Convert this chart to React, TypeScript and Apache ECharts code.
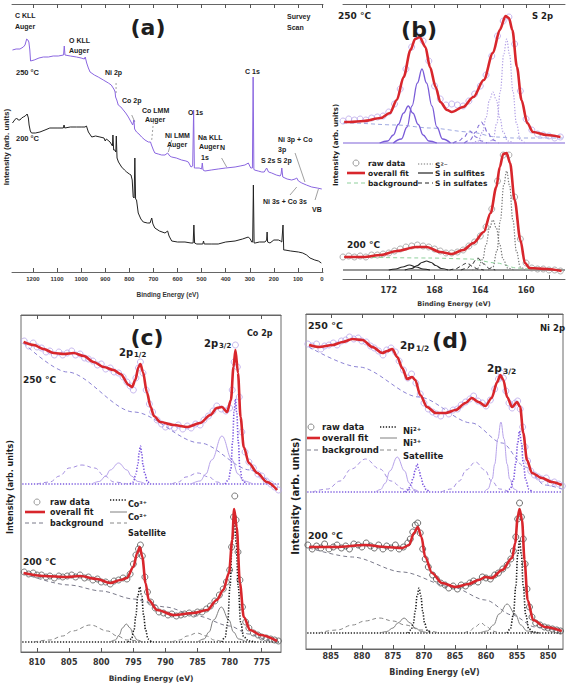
import React, { useEffect, useRef } from "react";
import * as echarts from "echarts";

// ---------------- Panel (a): survey scans ----------------
const A_TICKS = [0, 100, 200, 300, 400, 500, 600, 700, 800, 900, 1000, 1100, 1200];
const A_250 = [
  [1285,222],[1270,223],[1254,223],[1240,225],[1233,227],[1226,233],[1221,232],[1217,230],[1213,222],[1210,211],
  [1195,212],[1175,214],[1157,215],[1136,215],[1116,216],[1095,216],[1073,217],[1070,226],[1067,217],[1045,216],
  [1019,215],[1000,214],[987,213],[983,215],[977,209],[970,204],[963,200],[945,197],[929,195],[908,192],[887,189],
  [875,187],[867,184],[862,182],[859,180],[857,175],[852,172],[846,167],[835,165],[825,162],[815,159],[804,155],
  [795,151],[786,147],[781,152],[778,143],[770,140],[760,138],[749,135],[735,132],[721,130],[712,130],[708,127],
  [700,122],[694,119],[680,118],[666,117],[652,117],[641,119],[632,116],[624,115],[605,114],[583,112],[565,111],
  [555,110],[544,105],[537,106],[533,162],[530,104],[525,104],[510,104],[500,103],[497,109],[494,102],[486,101],
  [460,102],[431,103],[400,104],[361,105],[340,106],[320,107],[306,109],[296,104],[289,104],[286,195],[283,103],
  [281,102],[265,101],[250,100],[240,100],[230,104],[222,100],[209,99],[190,97],[174,96],[170,98],[167,104],
  [163,95],[161,95],[145,93],[126,92],[112,93],[105,94],[98,91],[84,89],[65,87],[43,85],[20,84],[1,83]
];
const A_200 = [
  [1285,149],[1276,152],[1268,154],[1261,152],[1254,152],[1247,154],[1240,155],[1232,156],[1224,158],[1219,154],
  [1216,147],[1211,141],[1206,139],[1190,139],[1171,140],[1150,142],[1130,144],[1100,144],[1074,144],[1071,147],
  [1068,144],[1045,145],[1019,145],[1000,145],[984,145],[978,146],[970,140],[956,135],[940,136],[922,135],
  [905,134],[900,131],[895,133],[880,130],[870,126],[868,137],[865,122],[860,122],[856,120],[854,136],[851,114],
  [845,110],[832,105],[820,102],[811,100],[800,98],[793,97],[788,92],[784,75],[780,74],[777,114],[774,73],
  [770,72],[763,59],[752,53],[742,50],[725,49],[714,49],[707,54],[702,48],[694,44],[675,41],[652,39],[641,41],
  [635,36],[624,31],[600,30],[569,30],[544,29],[535,29],[532,47],[529,29],[520,28],[495,28],[492,31],[489,28],
  [460,28],[431,28],[400,30],[361,31],[330,33],[306,35],[298,33],[292,30],[288,30],[285,87],[282,29],[278,29],
  [260,30],[237,30],[230,32],[228,40],[226,30],[216,29],[200,32],[181,32],[172,31],[167,30],[162,47],[159,22],
  [154,22],[130,21],[98,20],[80,19],[64,17],[50,14],[30,12],[15,11],[3,9]
];
const A_POINTERS = [
  { seg: [[855,189],[855,178]], dash: true },
  { seg: [[790,157],[777,150]], dash: false },
  { seg: [[700,150],[707,132]], dash: true },
  { seg: [[624,132],[638,120]], dash: false },
  { seg: [[417,114],[396,105]], dash: false },
  { seg: [[112,119],[71,90]], dash: false },
  { seg: [[133,77],[105,85]], dash: false },
  { seg: [[29,72],[15,83]], dash: false }
];

// ---------------- Panel (b): S 2p ----------------
const B_TICKS = [158, 160, 162, 164, 166, 168, 170, 172, 174];
const B_LABELS = [160, 164, 168, 172];
const B250_RAW = [
  [176.0,158],[175.5,160],[175.0,159],[174.5,160],[174.0,159],[173.5,161],[173.0,162],[172.5,163],[172.0,167],
  [171.5,175],[171.0,190],[170.5,210],[170.0,232],[169.5,243],[169.0,238],[168.5,218],[168.0,193],[167.5,180],
  [167.0,174],[166.5,175],[166.0,174],[165.5,173],[165.0,178],[164.5,185],[164.0,193],[163.5,204],[163.0,223],
  [162.5,243],[162.0,258],[161.5,262],[161.0,235],[160.5,188],[160.0,160],[159.5,149],[159.0,145],[158.5,144],
  [158.0,143],[157.5,141],[157.0,142]
];
const B250_FIT = [
  [175.9,157],[175.4,157],[174.2,158],[172.7,161],[171.9,166],[171.3,179],[170.7,202],[170.1,229],[169.7,240],
  [169.3,242],[168.8,232],[168.4,212],[167.9,192],[167.5,177],[166.9,169],[166.5,167],[165.5,172],[164.6,182],
  [163.7,199],[162.9,226],[162.3,249],[161.8,263],[161.5,261],[161.2,249],[160.8,212],[160.4,179],[159.9,156],
  [159.4,147],[158.2,144],[157.0,142]
];
const B250_BG = [[176,156],[175.4,156],[171.3,154],[168.4,151],[164.9,147],[162.6,142],[161.1,141],[156.8,141]];
const B250_SO4A = [[171.6,136],[170.9,140],[170.4,152],[169.975,173],[169.5,196],[169.1,210],[168.7,196],[168.225,173],[167.8,152],[167.3,140],[166.6,136]];
const B250_SO4B = [[172.8,136],[172.1,138],[171.6,144],[171.175,154.5],[170.7,166],[170.3,173],[169.9,166],[169.425,154.5],[169.0,144],[168.5,138],[167.8,136]];
const B250_S2A = [[163.3,136],[162.9,139],[162.55,156],[162.25,188],[161.95,225],[161.7,240],[161.45,225],[161.15,188],[160.85,156],[160.5,139],[160.1,136]];
const B250_S2B = [[164.7,136],[164.2,138],[163.8,147],[163.5,161.5],[163.2,179],[162.9,187],[162.6,179],[162.3,161.5],[162.0,147],[161.6,138],[161.1,136]];
const B250_SO3A = [[165.4,136],[164.9,139],[164.4,147],[164.1,154],[163.9,157],[163.7,154],[163.4,147],[162.9,139],[162.4,136]];
const B250_SO3B = [[166.4,136],[165.9,138],[165.4,142],[165.1,146],[164.9,148],[164.7,146],[164.4,142],[163.9,138],[163.4,136]];
const B250_BASE = [[176,136],[156.6,136]];

const B200_RAW = [
  [176.0,22],[175.5,23],[175.0,22],[174.5,23],[174.0,22],[173.5,24],[173.0,24],[172.5,25],[172.0,26],[171.5,28],
  [171.0,30],[170.5,32],[170.0,33],[169.5,34],[169.0,33],[168.5,32],[168.0,30],[167.5,28],[167.0,26],[166.5,26],
  [166.0,27],[165.5,29],[165.0,33],[164.5,37],[164.0,43],[163.5,52],[163.0,70],[162.5,98],[162.0,124],[161.5,124],
  [161.0,82],[160.5,40],[160.0,16],[159.5,11],[159.0,10],[158.5,10],[158.0,9],[157.5,9],[157.0,8]
];
const B200_FIT = [
  [175.9,22],[174.2,22],[172.7,24],[171.3,28],[169.6,32],[168.7,32],[167.5,27],[166.5,25],[165.5,29],[164.6,36],
  [163.7,47],[163.1,66],[162.6,92],[162.3,112],[162.0,125],[161.7,126],[161.4,116],[161.0,79],[160.5,39],
  [160.1,16],[159.7,11],[158.2,10],[156.9,8]
];
const B200_BG = [[175.9,22],[168.4,21],[164.9,20],[162.6,16],[160.8,11],[159.7,10],[156.9,9]];
const B200_SO4A = [[170.6,9],[170.0,10.5],[169.5,13.5],[169.1,16.5],[168.7,18],[168.3,16.5],[167.9,13.5],[167.4,10.5],[166.8,9]];
const B200_SO4B = [[172.0,9],[171.4,10],[170.8,12],[170.2,14],[169.6,12],[169.0,10],[168.4,9]];
const B200_SO3A = [[165.7,9],[165.2,10.5],[164.7,15],[164.4,19],[164.2,21],[164.0,19],[163.7,15],[163.2,10.5],[162.7,9]];
const B200_SO3B = [[166.7,9],[166.2,10],[165.7,12.5],[165.4,15],[165.2,16],[165.0,15],[164.7,12.5],[164.2,10],[163.7,9]];
const B200_S2A = [[163.3,9],[162.9,12],[162.55,28],[162.25,58.5],[161.95,94],[161.7,108],[161.45,94],[161.15,58.5],[160.85,28],[160.5,12],[160.1,9]];
const B200_S2B = [[164.7,9],[164.2,11],[163.8,19.5],[163.5,34],[163.2,51],[162.9,59],[162.6,51],[162.3,34],[162.0,19.5],[161.6,11],[161.1,9]];
const B200_BASE = [[176,9],[156.6,9]];

// ---------------- Panel (c): Co 2p ----------------
const C_TICKS = [775, 780, 785, 790, 795, 800, 805, 810];
const C250_RAW = [
  [812,311],[811.3,306],[810.6,309],[810,305],[809.3,304],[808.6,300],[808,301],[807.3,297],[806.6,300],[806,297],
  [805.3,299],[804.6,301],[804,297],[803.3,298],[802.6,294],[802,293],[801.3,291],[800.6,287],[800,288],[799.3,283],
  [798.6,284],[798,280],[797.3,279],[796.6,275],[796,270],[795.5,266],[795,262],[794.6,274],[794.2,284],[793.9,290],
  [793.5,279],[793,262],[792.5,248],[792,240],[791.3,232],[790.6,228],[790,225],[789.3,226],[788.6,224],[788,227],
  [787.3,223],[786.6,226],[786,224],[785.3,228],[784.6,227],[784,232],[783.3,236],[782.6,241],[782,246],[781.3,243],
  [780.6,241],[780,244],[779.6,262],[779.3,290],[779.1,307],[778.8,285],[778.5,255],[778.1,220],[777.6,200],
  [777,190],[776.3,184],[775.6,178],[775,176],[774.3,171],[773.6,168],[773,165],[772.4,162]
];
const C250_FIT = [
  [812.1,310],[810.5,307],[809,303],[807.4,299],[805.8,298],[804.3,299],[802.7,296],[801.2,290],[799.6,285],
  [798.1,282],[797,278],[795.7,267],[795.2,265],[794.7,272],[794.2,285],[793.9,288],[793.5,280],[792.9,260],
  [792.3,245],[791.8,236],[790.8,230],[788.7,227],[786.6,225],[784.6,229],[783,237],[782,244],[781.2,245],
  [780.4,240],[779.8,252],[779.4,285],[779.1,302],[778.7,279],[778.3,235],[777.8,205],[777,189],[775.7,179],
  [774.2,170],[772.6,162]
];
const C250_BG = [[812.1,309],[805.3,280],[794.9,240],[784.6,209],[776.8,182],[772.6,163]];
const C250_SAT1 = [[810,168],[808,170],[806.5,176],[805,184],[803,187],[801,184],[799.5,176],[798,170],[796,168]];
const C250_SAT2 = [[789,168],[788,170],[786.8,175],[785,179],[783.2,175],[782,170],[781,168]];
const C250_CO2A = [[801.5,168],[800.3,170.5],[799.3,176],[798.6,182],[797.3,189],[796,182],[795.3,176],[794.3,170.5],[793.1,168]];
const C250_CO2B = [[786,168],[784.6,171],[783.7,178],[782.8,192],[781.2,216],[779.6,192],[778.7,178],[777.8,171],[776.4,168]];
const C250_CO3A = [[795.5,168],[795.0,170],[794.6,178],[794.3,187],[794.1,199],[793.9,206],[793.7,199],[793.5,187],[793.2,178],[792.8,170],[792.3,168]];
const C250_CO3B = [[780.7,168],[780.2,172],[779.8,183],[779.55,210],[779.3,240],[779.1,253],[778.9,240],[778.65,210],[778.4,183],[778.0,172],[777.5,168]];
const C250_BASE = [[812.3,168],[772.2,168]];

const C200_RAW = [
  [812,80],[811.3,78],[810.6,79],[810,77],[809.3,77],[808.6,75],[808,76],[807.3,74],[806.6,76],[806,75],[805.3,76],
  [804.6,77],[804,75],[803.3,77],[802.6,74],[802,75],[801.3,72],[800.6,73],[800,70],[799.3,70],[798.6,68],[798,71],
  [797.3,72],[796.6,74],[796,73],[795.5,78],[795,88],[794.6,97],[794.2,103],[793.9,107],[793.6,96],[793.2,75],
  [792.8,60],[792.3,50],[791.6,44],[791,40],[790.3,39],[789.6,37],[789,38],[788.3,36],[787.6,37],[787,38],
  [786.3,39],[785.6,38],[785,40],[784.3,40],[783.6,43],[783,46],[782.3,51],[781.6,57],[781,63],[780.5,70],
  [780,82],[779.7,105],[779.4,135],[779.2,156],[779,132],[778.7,100],[778.4,72],[778,45],[777.5,30],[777,24],
  [776.3,19],[775.6,17],[775,15],[774.3,14],[773.6,13],[773,12],[772.4,11]
];
const C200_FIT = [
  [812.1,79],[809,76],[805.3,75],[803.3,76],[800.7,73],[798.6,69],[797,72],[796,74],[795,85],[794.4,99],[794,105],
  [793.6,95],[793.1,69],[792.6,52],[791.3,42],[788.7,37],[785.6,39],[783.5,42],[782,52],[781,62],[780.1,79],
  [779.6,112],[779.3,143],[778.9,125],[778.4,69],[777.8,35],[776.8,22],[775.2,17],[772.6,11]
];
const C200_BG = [[812,78],[805,67],[800,61],[795,53],[790,45],[785,36],[780,26],[777,18],[774,12],[772.5,10]];
const C200_SAT1 = [[810.5,10],[808,12],[806,16],[804.5,21],[801.7,27],[799,21],[797.5,16],[796,12],[793.5,10]];
const C200_SAT2 = [[789,10],[787.8,12],[786.6,16],[785.1,19],[783.6,16],[782.4,12],[781,10]];
const C200_CO2A = [[798.6,10],[797.8,12],[797.2,17],[796.7,24],[796.1,28],[795.5,24],[795,17],[794.4,12],[793.6,10]];
const C200_CO2B = [[785,10],[784,13],[783.2,20],[782.5,32],[781.3,45],[780.1,32],[779.4,20],[778.6,13],[777.4,10]];
const C200_CO3A = [[795.8,10],[795.3,13],[794.9,22],[794.6,37],[794.3,56],[794,65],[793.7,56],[793.4,37],[793.1,22],[792.7,13],[792.2,10]];
const C200_CO3B = [[781.2,10],[780.7,15],[780.3,30],[779.95,65],[779.6,110],[779.3,134],[779.0,110],[778.65,65],[778.3,30],[777.8,15],[777,11],[776,10]];
const C200_BASE = [[812.3,10],[772.2,10]];

// ---------------- Panel (d): Ni 2p ----------------
const D_TICKS = [850, 855, 860, 865, 870, 875, 880, 885];
const D250_RAW = [
  [888.7,305],[888,303],[887.3,305],[886.6,300],[886,303],[885.3,304],[884.6,306],[884,304],[883.3,308],[882.6,309],
  [882,312],[881.3,310],[880.6,311],[880,308],[879.3,307],[878.6,303],[878,301],[877.3,298],[876.6,294],[876,299],
  [875.3,301],[874.6,297],[874,288],[873.3,279],[872.6,271],[872,275],[871.3,266],[870.6,255],[870,246],[869.3,240],
  [868.6,237],[868,235],[867.3,233],[866.6,238],[866,235],[865.3,239],[864.6,240],[864,244],[863.3,247],[862.6,250],
  [862,253],[861.3,248],[860.6,246],[860,243],[859.3,249],[858.6,260],[858,270],[857.6,276],[857.2,271],[856.8,258],
  [856.3,246],[855.8,241],[855.3,246],[854.9,248],[854.5,240],[854.1,222],[853.7,202],[853.3,188],[852.8,178],
  [852.2,174],[851.6,172],[851,170],[850.3,171],[849.6,166],[849,167],[848.3,165],[847.7,163]
];
const D250_FIT = [
  [888.5,304],[886.9,302],[884.7,304],[883.1,307],[881.5,310],[879.9,309],[878.3,302],[876.7,296],[875.9,298],
  [875.1,300],[874.3,292],[873.5,281],[872.7,270],[871.9,272],[871.4,269],[870.6,254],[869.5,242],[868.1,236],
  [866.5,236],[864.9,239],[863.3,246],[862.3,251],[861.2,247],[860.1,243],[859.1,251],[858.2,267],[857.7,274],
  [857.2,269],[856.6,252],[855.8,242],[855,247],[854.5,242],[854,216],[853.4,189],[852.6,176],[851,171],
  [849.4,167],[847.8,164]
];
const D250_BG = [[888.5,302],[880.5,282],[870.8,252],[862.3,226],[857.4,206],[853.7,182],[850.5,164],[847.8,160]];
const D250_SAT1 = [[888,157],[885.5,160],[883.5,168],[881.7,180],[879.4,190],[877.1,180],[875.3,168],[873.3,160],[870.8,157]];
const D250_SAT2 = [[867.2,157],[865.6,160],[864.3,168],[863.2,179],[861.7,187],[860.2,179],[859.1,168],[857.8,160],[856.2,157]];
const D250_NI3A = [[877.8,157],[877,159.5],[876.2,166],[875.5,178],[874.3,192],[873.1,178],[872.4,166],[871.6,159.5],[870.8,157]];
const D250_NI3B = [[860.3,157],[859.7,160],[859,170],[858.6,185],[858.1,210],[857.6,227],[857.1,210],[856.6,185],[856.2,170],[855.5,160],[854.8,157]];
const D250_NI2A = [[873.1,157],[872.6,159],[872.1,164],[871.75,171],[871.4,179],[871.1,185],[870.8,179],[870.45,171],[870.1,164],[869.6,159],[869.1,157]];
const D250_NI2B = [[856.6,157],[856.1,160],[855.6,169],[855.2,186],[854.9,206],[854.6,218],[854.3,206],[854.0,186],[853.6,169],[853.1,160],[852.6,157]];
const D250_BASE = [[888.8,157],[847.8,157]];

const D200_RAW = [
  [888.7,104],[888,100],[887.3,103],[886.6,101],[886,105],[885.3,100],[884.6,102],[884,104],[883.3,101],[882.6,103],
  [882,100],[881.3,105],[880.6,104],[880,102],[879.3,106],[878.6,103],[878,101],[877.3,104],[876.6,100],[876,103],
  [875.3,101],[874.6,104],[874,100],[873.3,102],[872.6,106],[872.2,110],[871.8,117],[871.4,124],[871,126],[870.6,116],
  [870.2,100],[869.8,90],[869.3,82],[868.6,74],[868,70],[867.3,66],[866.6,64],[866,61],[865.3,63],[864.6,60],
  [864,64],[863.3,63],[862.6,66],[862,68],[861.3,67],[860.6,72],[860,71],[859.3,70],[858.6,74],[858,76],[857.3,80],
  [856.6,84],[856,90],[855.6,98],[855.2,112],[854.9,130],[854.6,146],[854.3,132],[854,110],[853.7,85],[853.4,60],
  [853,42],[852.6,32],[852,26],[851.3,24],[850.6,22],[850,21],[849.3,20],[848.6,19],[848,18]
];
const D200_FIT = [
  [888.5,102],[884.2,102],[879.4,104],[876.2,102],[873.5,101],[872.4,104],[871.6,116],[871,122],[870.4,112],
  [869.8,92],[868.7,76],[867.1,66],[864.9,62],[862.8,65],[861.2,69],[860.1,72],[859.1,71],[857.4,79],[855.8,91],
  [855.3,106],[854.9,132],[854.6,140],[854.2,129],[853.8,89],[853.3,49],[852.4,29],[850.5,22],[847.8,18]
];
const D200_BG = [[888.5,101],[881.5,92],[873.5,77],[865.5,62],[860.1,49],[855.8,34],[852.1,22],[847.8,17]];
const D200_SAT1 = [[887,16],[884,19],[881.5,24],[879.5,28],[877.2,31],[875,28],[873,24],[870.5,19],[867.5,16]];
const D200_SAT2 = [[863.5,16],[862.6,18],[861.8,22],[860.8,26],[859.8,22],[859,18],[858,16]];
const D200_NI3A = [[877,16],[876,17.5],[875,21],[874.2,26],[873.2,31],[872.2,26],[871.4,21],[870.4,17.5],[869.4,16]];
const D200_NI3B = [[861,16],[859.8,18],[858.8,24],[857.9,35],[856.6,45],[855.3,35],[854.4,24],[853.4,18],[852,16]];
const D200_NI2A = [[872.6,16],[872.1,19],[871.7,26],[871.4,38],[871.1,53],[870.8,61],[870.5,53],[870.2,38],[869.9,26],[869.5,19],[869,16]];
const D200_NI2B = [[856.6,16],[856.1,20],[855.6,34],[855.2,62],[854.9,94],[854.6,109],[854.3,94],[854,62],[853.6,34],[853.1,20],[852.4,17],[851.5,16]];
const D200_BASE = [[888.8,16],[847.8,16]];

// ---------------- styling ----------------
const FONT = "DejaVu Sans, sans-serif";
const NARROW = "Liberation Sans, Arial, sans-serif";
const RED = "#d8262c";
const PURPLE = "#8a66e0";
const LAV = "#b9a6ea";
const DASH = [4, 3];
const DOT = [1.3, 1.6];
const INK = "#1e1e1e";

function App() {
  const ref = useRef<HTMLDivElement>(null);
  useEffect(() => {
    if (!ref.current) return;
    const chart = echarts.init(ref.current, null, { renderer: "svg", width: 567, height: 694 });

    const grids = [
      { left: 12, top: 4, width: 311, height: 268 },
      { left: 343, top: 4, width: 222, height: 275 },
      { left: 21, top: 315, width: 260, height: 337, show: true, borderColor: "#6a6a6a", borderWidth: 1 },
      { left: 306, top: 314, width: 257, height: 335, show: true, borderColor: "#6a6a6a", borderWidth: 1 },
    ];
    const ranges = [[-4, 1287], [156.6, 176], [772, 812.5], [847.6, 889]];
    const ticks = [A_TICKS, B_TICKS, C_TICKS, D_TICKS];
    const labels = [A_TICKS, B_LABELS, C_TICKS, D_TICKS];
    const lblSize = [6, 8, 8, 8];
    const lblMargin = [4, 7, 6, 3];
    const lblFont = [NARROW, FONT, FONT, FONT];
    const nameSize = [6.5, 6.5, 7.5, 8];
    const nameGap = [19, 21, 22, 19];
    const nameFont = [NARROW, FONT, FONT, FONT];

    const xAxis: any[] = [];
    for (let g = 0; g < 4; g++) {
      for (const pos of ["bottom", "top"]) {
        const bottom = pos === "bottom";
        xAxis.push({
          type: "value",
          gridIndex: g,
          position: pos,
          inverse: true,
          min: ranges[g][0],
          max: ranges[g][1],
          splitLine: { show: false },
          axisLine: { show: true, onZero: false, lineStyle: { color: "#666", width: 1 } },
          axisTick: { show: true, inside: true, length: 4, customValues: ticks[g], lineStyle: { color: "#555" } },
          axisLabel: {
            show: bottom,
            customValues: labels[g],
            formatter: (v: number) => String(v),
            fontSize: lblSize[g],
            fontWeight: "bold",
            fontFamily: lblFont[g],
            color: "#333",
            margin: lblMargin[g],
          },
          name: bottom ? "Binding Energy (eV)" : "",
          nameLocation: "middle",
          nameGap: nameGap[g],
          nameTextStyle: { fontSize: nameSize[g], fontWeight: "bold", fontFamily: nameFont[g], color: "#333" },
        });
      }
    }
    const ymax = [268, 275, 337, 335];
    const yAxis = ymax.map((m, g) => ({
      type: "value",
      gridIndex: g,
      min: 0,
      max: m,
      show: true,
      axisLine: { show: false },
      axisTick: { show: false },
      axisLabel: { show: false },
      splitLine: { show: false },
    }));

    const ln = (g: number, data: number[][], color: string, type: any, width: number, smooth: any = 0.4, z = 3) => ({
      type: "line",
      xAxisIndex: g * 2,
      yAxisIndex: g,
      data,
      symbol: "none",
      showSymbol: false,
      smooth,
      smoothMonotone: "x",
      silent: true,
      z,
      lineStyle: { color, width, type },
    });
    const raw = (g: number, data: number[][], color: string, size = 5.5) => ({
      type: "scatter",
      xAxisIndex: g * 2,
      yAxisIndex: g,
      data,
      symbol: "circle",
      symbolSize: size,
      silent: true,
      z: 2,
      itemStyle: { color: "rgba(0,0,0,0)", borderColor: color, borderWidth: 1 },
    });

    const series: any[] = [
      ln(0, A_250, PURPLE, "solid", 1, false, 3),
      ln(0, A_200, "#222", "solid", 1, false, 3),
      ...A_POINTERS.map((p) => ln(0, p.seg, "#777", p.dash ? [2, 2] : "solid", 0.7, false, 2)),

      // (b) 250
      ln(1, B250_BASE, "#7f63d8", "solid", 1.2, false, 2),
      ln(1, B250_BG, "#9fa9e0", DASH, 1, 0.3),
      ln(1, B250_SO4A, "#7a5cd8", "solid", 1.3),
      ln(1, B250_SO4B, "#7a5cd8", "solid", 1.3),
      ln(1, B250_S2A, "#b3a2e6", DOT, 1.2),
      ln(1, B250_S2B, "#b3a2e6", DOT, 1.2),
      ln(1, B250_SO3A, "#8470d6", DASH, 1.1),
      ln(1, B250_SO3B, "#8470d6", DASH, 1.1),
      raw(1, B250_RAW, LAV, 6),
      ln(1, B250_FIT, RED, "solid", 2.6, 0.3, 5),
      // (b) 200
      ln(1, B200_BASE, "#333", "solid", 1.2, false, 2),
      ln(1, B200_BG, "#8fd09c", DASH, 1, 0.3),
      ln(1, B200_SO4A, "#222", "solid", 1.2),
      ln(1, B200_SO4B, "#222", "solid", 1.2),
      ln(1, B200_SO3A, "#222", DASH, 1),
      ln(1, B200_SO3B, "#222", DASH, 1),
      ln(1, B200_S2A, "#777", DOT, 1.2),
      ln(1, B200_S2B, "#777", DOT, 1.2),
      raw(1, B200_RAW, "#9a9a9a", 6),
      ln(1, B200_FIT, RED, "solid", 2.6, 0.3, 5),

      // (c) 250
      ln(2, C250_BASE, "#7f5fe0", DOT, 1.4, false, 2),
      ln(2, C250_BG, "#8c83d4", DASH, 1, 0.3),
      ln(2, C250_SAT1, "#a48fe0", DASH, 1),
      ln(2, C250_SAT2, "#a48fe0", DASH, 1),
      ln(2, C250_CO2A, "#b7a3ea", "solid", 1),
      ln(2, C250_CO2B, "#b7a3ea", "solid", 1),
      ln(2, C250_CO3A, "#7a55e0", DOT, 1.6),
      ln(2, C250_CO3B, "#7a55e0", DOT, 1.6),
      raw(2, C250_RAW, LAV, 6),
      ln(2, C250_FIT, RED, "solid", 2.6, 0.3, 5),
      // (c) 200
      ln(2, C200_BASE, "#222", DOT, 1.4, false, 2),
      ln(2, C200_BG, "#7a7a8a", DASH, 1, 0.3),
      ln(2, C200_SAT1, "#888", DASH, 1),
      ln(2, C200_SAT2, "#888", DASH, 1),
      ln(2, C200_CO2A, "#808080", "solid", 1),
      ln(2, C200_CO2B, "#808080", "solid", 1),
      ln(2, C200_CO3A, "#1c1c1c", DOT, 1.6),
      ln(2, C200_CO3B, "#1c1c1c", DOT, 1.6),
      raw(2, C200_RAW, "#5a5a5a", 6),
      ln(2, C200_FIT, RED, "solid", 2.6, 0.3, 5),

      // (d) 250
      ln(3, D250_BASE, "#7f5fe0", DOT, 1.4, false, 2),
      ln(3, D250_BG, "#8c83d4", DASH, 1, 0.3),
      ln(3, D250_SAT1, "#a48fe0", DASH, 1),
      ln(3, D250_SAT2, "#a48fe0", DASH, 1),
      ln(3, D250_NI3A, "#b7a3ea", "solid", 1),
      ln(3, D250_NI3B, "#b7a3ea", "solid", 1),
      ln(3, D250_NI2A, "#7a55e0", DOT, 1.6),
      ln(3, D250_NI2B, "#7a55e0", DOT, 1.6),
      raw(3, D250_RAW, LAV, 6),
      ln(3, D250_FIT, RED, "solid", 2.6, 0.3, 5),
      // (d) 200
      ln(3, D200_BASE, "#222", DOT, 1.4, false, 2),
      ln(3, D200_BG, "#7a7a8a", DASH, 1, 0.3),
      ln(3, D200_SAT1, "#888", DASH, 1),
      ln(3, D200_SAT2, "#888", DASH, 1),
      ln(3, D200_NI3A, "#808080", "solid", 1),
      ln(3, D200_NI3B, "#808080", "solid", 1),
      ln(3, D200_NI2A, "#1c1c1c", DOT, 1.6),
      ln(3, D200_NI2B, "#1c1c1c", DOT, 1.6),
      raw(3, D200_RAW, "#4a4a4a", 6),
      ln(3, D200_FIT, RED, "solid", 2.6, 0.3, 5),
    ];

    const T = (x: number, y: number, text: string, size: number, opt: any = {}) => ({
      type: "text",
      x,
      y,
      silent: true,
      z: 10,
      rotation: opt.rotation || 0,
      style: {
        text,
        fontSize: size,
        fontWeight: opt.weight || "bold",
        fontFamily: opt.font || FONT,
        fill: opt.fill || INK,
        align: opt.align || "left",
        verticalAlign: "middle",
        textAlign: opt.align || "left",
        textVerticalAlign: "middle",
      },
    });
    const L = (x1: number, y1: number, x2: number, y2: number, stroke: string, w: number, dash?: number[]) => ({
      type: "line",
      silent: true,
      z: 10,
      shape: { x1, y1, x2, y2 },
      style: { stroke, lineWidth: w, lineDash: dash || null },
    });
    const Cc = (cx: number, cy: number, stroke: string) => ({
      type: "circle",
      silent: true,
      z: 10,
      shape: { cx, cy, r: 3 },
      style: { fill: "none", stroke, lineWidth: 1 },
    });
    const N = (t: string, x: number, y: number) => T(x, y, t, 7, { font: NARROW });

    const graphic: any[] = [
      // (a)
      N("C KLL", 15, 15), N("Auger", 15, 26),
      T(148, 27, "(a)", 22, { align: "center" }),
      N("Survey", 287, 16), N("Scan", 287, 27),
      N("O KLL", 69, 40), N("Auger", 69, 50),
      T(16, 72, "250 °C", 7.5, { font: NARROW }),
      T(16, 138, "200 °C", 7.5, { font: NARROW }),
      N("Ni 2p", 105, 72),
      N("Co 2p", 122, 100),
      N("Co LMM", 142, 110), N("Auger", 145, 119),
      N("Ni LMM", 165, 135), N("Auger", 167, 144),
      N("O 1s", 188, 112),
      N("Na KLL", 198, 137), N("Auger", 199, 146), N("1s", 201, 157),
      N("N", 220, 147),
      N("C 1s", 245, 71),
      N("S 2s", 261, 160),
      N("S 2p", 277, 160),
      N("Ni 3p + Co", 278, 139), N("3p", 278, 149),
      N("Ni 3s + Co 3s", 263, 201),
      N("VB", 312, 209),
      T(6, 147, "Intensity (arb. units)", 8, { align: "center", rotation: Math.PI / 2, font: NARROW }),

      // (b)
      T(338, 16, "250 °C", 9),
      T(532, 16, "S 2p", 8.5),
      T(419, 29, "(b)", 22, { align: "center" }),
      T(347, 245, "200 °C", 9),
      T(336, 145, "Intensity (arb. units)", 7, { align: "center", rotation: Math.PI / 2 }),
      Cc(356, 163, "#9a9a9a"), T(368, 163, "raw data", 7.5),
      L(347, 173, 365, 173, RED, 2.6), T(368, 173, "overall fit", 7.5),
      L(347, 183, 365, 183, "#8fd09c", 1, DASH), T(368, 183, "background", 7.5),
      L(418, 164, 433, 164, "#777", 1.2, DOT), T(435, 165, "S²⁻", 7.5),
      L(418, 173, 433, 173, "#222", 1.2), T(435, 173, "S in sulfites", 7.5),
      L(418, 183, 433, 183, "#222", 1, DASH), T(435, 183, "S in sulfates", 7.5),

      // (c)
      T(147, 337, "(c)", 22, { align: "center" }),
      T(247, 333, "Co 2p", 8),
      T(119, 352, "2p", 10), T(134, 355, "1/2", 7),
      T(204, 343, "2p", 10), T(219, 346, "3/2", 7),
      T(23, 380, "250 °C", 9),
      T(23, 562, "200 °C", 9),
      T(10, 487, "Intensity (arb. units)", 8, { align: "center", rotation: Math.PI / 2 }),
      Cc(37, 502, "#9a9a9a"), T(50, 502, "raw data", 8),
      L(25, 512, 45, 512, RED, 2.6), T(50, 512, "overall fit", 8),
      L(25, 523, 45, 523, "#7a7a8a", 1, DASH), T(50, 523, "background", 8),
      L(110, 500, 127, 500, "#1c1c1c", 1.6, DOT), T(128, 504, "Co³⁺", 8),
      L(110, 512, 127, 512, "#808080", 1), T(128, 517, "Co²⁺", 8),
      L(110, 523, 127, 523, "#888", 1, DASH), T(128, 533, "Satellite", 8),

      // (d)
      T(308, 325, "250 °C", 9.5),
      T(450, 340, "(d)", 22, { align: "center" }),
      T(540, 328, "Ni 2p", 8.5),
      T(400, 345, "2p", 10.5), T(416, 348, "1/2", 7.5),
      T(487, 368, "2p", 10.5), T(503, 371, "3/2", 7.5),
      T(308, 535, "200 °C", 9.5),
      T(295, 496, "Intensity (arb. units)", 10, { align: "center", rotation: Math.PI / 2 }),
      Cc(311, 427, "#8a8a8a"), T(322, 427, "raw data", 8.5),
      L(307, 438, 320, 438, RED, 2.6), T(322, 438, "overall fit", 8.5),
      L(307, 450, 320, 450, "#7a7a8a", 1, DASH), T(322, 450, "background", 8.5),
      L(380, 427, 397, 427, "#1c1c1c", 1.6, DOT), T(403, 431, "Ni²⁺", 8.5),
      L(380, 438, 397, 438, "#808080", 1), T(403, 443, "Ni³⁺", 8.5),
      L(380, 450, 397, 450, "#888", 1, DASH), T(403, 456, "Satellite", 8.5),
    ];

    chart.setOption({
      animation: false,
      backgroundColor: "#ffffff",
      grid: grids,
      xAxis,
      yAxis,
      series,
      graphic,
    });
    return () => chart.dispose();
  }, []);
  return <div ref={ref} style={{ position: "absolute", left: 0, top: 0, width: 567, height: 694 }} />;
}

export default App;
